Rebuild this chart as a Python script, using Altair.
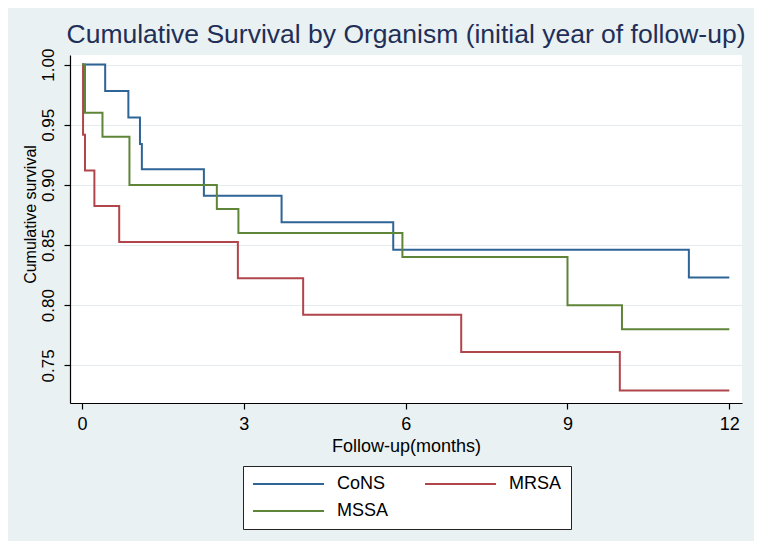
import altair as alt
import pandas as pd

# Kaplan-Meier step data (months, cumulative survival)
cons_t = [0, 0.43, 0.86, 1.075, 1.11, 2.26, 3.70, 5.77, 11.25, 12]
cons_s = [1.0, 0.978, 0.956, 0.934, 0.913, 0.891, 0.869, 0.846, 0.823, 0.823]

mrsa_t = [0, 0.02, 0.056, 0.23, 0.69, 2.89, 4.10, 7.03, 9.97, 12]
mrsa_s = [1.0, 0.9417, 0.912, 0.8825, 0.8525, 0.8225, 0.792, 0.761, 0.729, 0.729]

mssa_t = [0, 0.056, 0.38, 0.88, 2.50, 2.90, 5.94, 9.00, 10.01, 12]
mssa_s = [1.0, 0.96, 0.94, 0.90, 0.88, 0.86, 0.84, 0.80, 0.78, 0.78]

# legend order (filled column by column): CoNS, MSSA | MRSA
groups = ["CoNS", "MSSA", "MRSA"]
colors = ["#2f6496", "#5f8538", "#b0464c"]
x_ticks = [0, 3, 6, 9, 12]
y_ticks = [0.75, 0.80, 0.85, 0.90, 0.95, 1.00]

rows = []
for name, ts, ss in [("CoNS", cons_t, cons_s), ("MRSA", mrsa_t, mrsa_s), ("MSSA", mssa_t, mssa_s)]:
    for t, s in zip(ts, ss):
        rows.append({"organism": name, "time": t, "surv": s})
df = pd.DataFrame(rows)

FONT = "Liberation Sans"

chart = alt.Chart(df).mark_line(interpolate="step-after", strokeWidth=2).encode(
    x=alt.X("time:Q",
            scale=alt.Scale(domain=[-0.222, 12.235], nice=False, zero=False),
            axis=alt.Axis(values=x_ticks, grid=False, title="Follow-up(months)",
                          domainColor="black", domainWidth=1.2, tickColor="black",
                          tickSize=6, tickWidth=1.2, labelFontSize=18, labelColor="black",
                          labelPadding=6, labelFlush=False, titleFontSize=18,
                          titleFontWeight="normal", titleColor="black", titlePadding=4,
                          labelFont=FONT, titleFont=FONT)),
    y=alt.Y("surv:Q",
            scale=alt.Scale(domain=[0.7187, 1.008], nice=False, zero=False),
            axis=alt.Axis(values=y_ticks, format=".2f", grid=True, gridColor="#e2ecef",
                          gridWidth=1.2, title="Cumulative survival",
                          domainColor="black", domainWidth=1.2, tickColor="black",
                          tickSize=6, tickWidth=1.2, labelAngle=270, labelAlign="center",
                          labelBaseline="bottom", labelFontSize=17, labelColor="black",
                          labelPadding=7, labelFlush=False, titleFontSize=16,
                          titleFontWeight="normal", titleColor="black",
                          titleAngle=270, titleAlign="center", titleBaseline="middle",
                          titleX=-40, titleY=159, labelFont=FONT, titleFont=FONT)),
    color=alt.Color("organism:N",
                    scale=alt.Scale(domain=groups, range=colors),
                    legend=alt.Legend(title=None, orient="none", legendX=173, legendY=411,
                                      columns=2, columnPadding=32, rowPadding=9,
                                      symbolType="M-1,0H7.875", symbolSize=256,
                                      symbolStrokeWidth=2, labelOffset=67,
                                      labelFontSize=18, labelColor="black", labelFont=FONT,
                                      padding=9, strokeColor="#222222", fillColor="white")),
).properties(
    width=672,
    height=348,
    autosize=alt.AutoSizeParams(type="none"),
    padding={"left": 62, "top": 47, "right": 12, "bottom": 138},
    title=alt.TitleParams("Cumulative Survival by Organism (initial year of follow-up)",
                          fontSize=26.5, font=FONT, fontWeight="normal", color="#1f2f58",
                          anchor="middle", baseline="alphabetic", offset=-21),
).configure(
    background="#e9f1f3",
).configure_view(
    fill="white", stroke=None,
)

chart.save("out.html", embed_options={"renderer": "svg", "actions": False})
